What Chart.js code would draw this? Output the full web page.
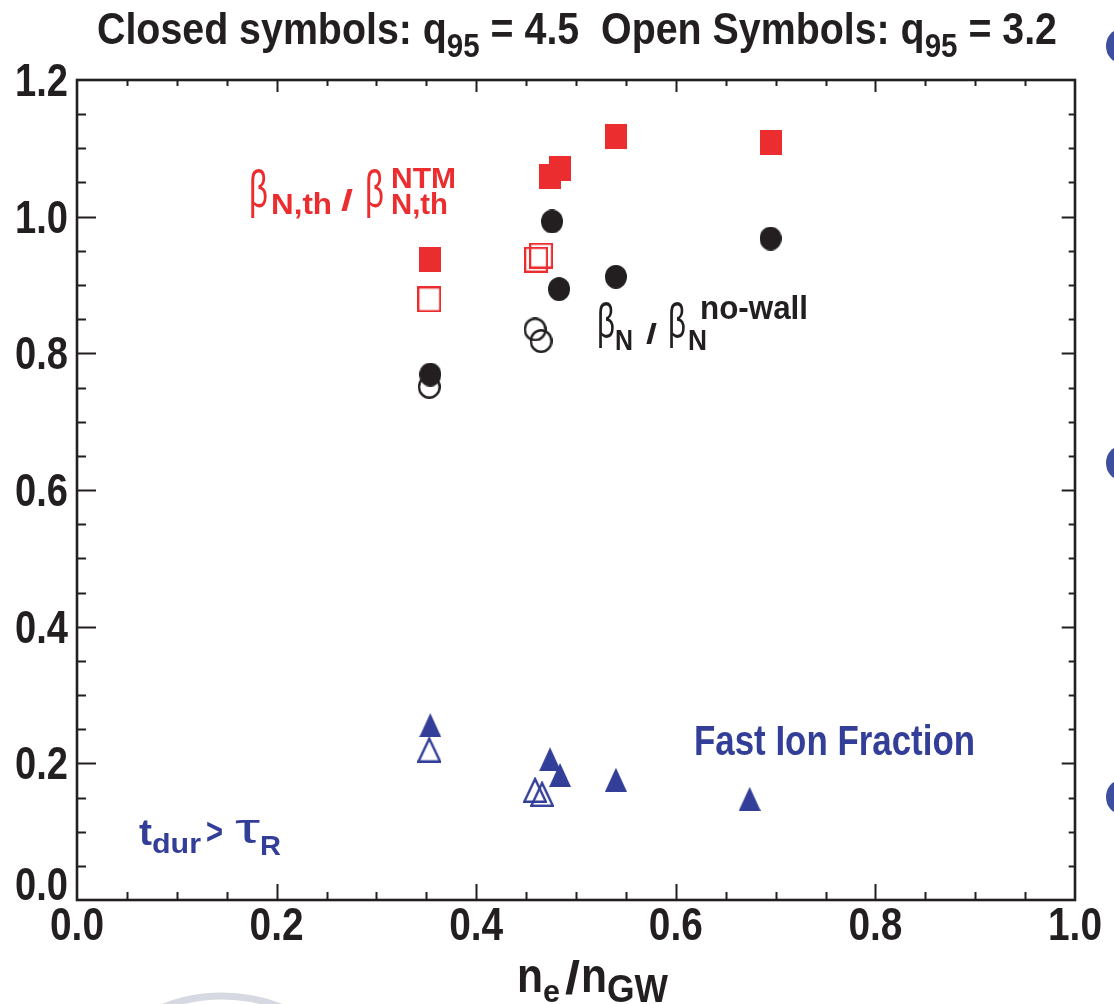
<!DOCTYPE html>
<html>
<head>
<meta charset="utf-8">
<script src="https://cdn.jsdelivr.net/npm/chart.js@4.4.1/dist/chart.umd.min.js"></script>
<style>
  html, body { margin: 0; padding: 0; background: #fff; overflow: hidden; }
  #wrap { position: relative; width: 1114px; height: 1004px; }
</style>
</head>
<body>
<div id="wrap"><canvas id="c" width="1114" height="1004"></canvas></div>
<script>
// Axis ticks
const xTickValues = [0, 0.2, 0.4, 0.6, 0.8, 1.0];
const xTickLabels = ['0.0', '0.2', '0.4', '0.6', '0.8', '1.0'];
const yTickValues = [0, 0.2, 0.4, 0.6, 0.8, 1.0, 1.2];
const yTickLabels = ['0.0', '0.2', '0.4', '0.6', '0.8', '1.0', '1.2'];
const minorStep = 0.05;

// beta_N,th / beta_N,th^NTM  (closed: q95 = 4.5, open: q95 = 3.2)
const ntmClosedX = [0.354, 0.474, 0.484, 0.540, 0.695];
const ntmClosedY = [0.938, 1.059, 1.070, 1.117, 1.109];
const ntmOpenX = [0.353, 0.460, 0.465];
const ntmOpenY = [0.879, 0.937, 0.943];

// beta_N / beta_N^no-wall
const wallClosedX = [0.354, 0.476, 0.483, 0.540, 0.695];
const wallClosedY = [0.769, 0.993, 0.894, 0.912, 0.968];
const wallOpenX = [0.353, 0.459, 0.465];
const wallOpenY = [0.751, 0.835, 0.818];

// Fast ion fraction
const fastClosedX = [0.354, 0.474, 0.484, 0.540, 0.674];
const fastClosedY = [0.256, 0.206, 0.183, 0.176, 0.148];
const fastOpenX = [0.353, 0.459, 0.466];
const fastOpenY = [0.220, 0.161, 0.155];

const RED = '#EC2D30';
const BLACK = '#231F20';
const BLUE = '#323E98';
const SANS = "'Liberation Sans', Arial, sans-serif";

function pts(xs, ys) { return xs.map((x, i) => ({ x: x, y: ys[i] })); }

// Marker bitmaps used as point styles
function marker(shape, w, h, color, filled, lw) {
  const c = document.createElement('canvas');
  c.width = w; c.height = h;
  const g = c.getContext('2d');
  const i = filled ? 0 : lw / 2;
  g.beginPath();
  if (shape === 'square') {
    g.rect(i, i, w - 2 * i, h - 2 * i);
  } else if (shape === 'circle') {
    g.ellipse(w / 2, h / 2, w / 2 - i, h / 2 - i, 0, 0, Math.PI * 2);
  } else {
    g.moveTo(w / 2, i * 1.6);
    g.lineTo(w - i, h - i);
    g.lineTo(i, h - i);
    g.closePath();
  }
  if (filled) { g.fillStyle = color; g.fill(); }
  else { g.strokeStyle = color; g.lineWidth = lw; g.lineJoin = 'miter'; g.stroke(); }
  return c;
}

function ds(data, style) {
  return { data: data, pointStyle: style, pointRadius: 11, pointHoverRadius: 11, showLine: false };
}

// Text helper: draws a string left/right/center aligned, squeezed to a width
function piece(ctx, s, x, y, o) {
  ctx.font = (o.weight || 'bold') + ' ' + o.size + 'px ' + (o.fam || SANS);
  const m = ctx.measureText(s).width;
  const sx = o.width ? o.width / m : (o.sx || 0.82);
  const sy = o.sy || 1;
  const dw = m * sx;
  let left = x;
  if (o.align === 'right') left = x - dw;
  else if (o.align === 'center') left = x - dw / 2;
  ctx.save();
  ctx.fillStyle = o.color || BLACK;
  ctx.textAlign = 'left';
  ctx.textBaseline = 'alphabetic';
  ctx.translate(left, y);
  ctx.scale(sx, sy);
  ctx.fillText(s, 0, 0);
  ctx.restore();
  return left + dw;
}

// Flowing rich text fitted to a total width
function flow(ctx, segs, x, y, totalW, color) {
  let nat = 0;
  segs.forEach(sg => {
    ctx.font = (sg.weight || 'bold') + ' ' + sg.size + 'px ' + SANS;
    sg.m = ctx.measureText(sg.s).width;
    nat += sg.m;
  });
  const sx = totalW / nat;
  let cx = x;
  segs.forEach(sg => {
    piece(ctx, sg.s, cx, y + (sg.dy || 0), { size: sg.size, weight: sg.weight, sx: sx, color: color });
    cx += sg.m * sx;
  });
}

const framePlugin = {
  id: 'frame',
  afterDraw(chart) {
    const ctx = chart.ctx;
    const xs = chart.scales.x, ys = chart.scales.y;
    const a = chart.chartArea;

    // inward ticks on all four sides
    ctx.save();
    ctx.strokeStyle = BLACK;
    ctx.lineWidth = 2;
    const nx = Math.round((xs.max - xs.min) / minorStep);
    for (let k = 1; k < nx; k++) {
      const v = xs.min + k * minorStep;
      const major = xTickValues.some(t => Math.abs(t - v) < 1e-6);
      const px = Math.round(xs.getPixelForValue(v)) + 0.5;
      const L = major ? 16 : 8;
      ctx.beginPath();
      ctx.moveTo(px, a.bottom); ctx.lineTo(px, a.bottom - L);
      ctx.moveTo(px, a.top); ctx.lineTo(px, a.top + L * 0.75);
      ctx.stroke();
    }
    const ny = Math.round((ys.max - ys.min) / minorStep);
    for (let k = 1; k < ny; k++) {
      const v = ys.min + k * minorStep;
      const major = yTickValues.some(t => Math.abs(t - v) < 1e-6);
      const py = Math.round(ys.getPixelForValue(v)) + 0.5;
      const L = major ? 19 : 9;
      ctx.beginPath();
      ctx.moveTo(a.left, py); ctx.lineTo(a.left + L, py);
      ctx.moveTo(a.right, py); ctx.lineTo(a.right - L * 0.7, py);
      ctx.stroke();
    }
    // frame
    ctx.lineWidth = 2.6;
    ctx.strokeRect(a.left, a.top, a.right - a.left, a.bottom - a.top);
    ctx.restore();

    // tick labels
    xTickValues.forEach((v, i) => {
      piece(ctx, xTickLabels[i], xs.getPixelForValue(v), 940, { size: 44, width: 54, align: 'center', sy: 1.04 });
    });
    yTickValues.forEach((v, i) => {
      let py = ys.getPixelForValue(v) + 16;
      if (i === 0) py -= 16;
      piece(ctx, yTickLabels[i], 68, py, { size: 44, width: 53, align: 'right', sy: 1.04 });
    });

    // title
    flow(ctx, [
      { s: 'Closed symbols: q', size: 44 },
      { s: '95', size: 33, dy: 13 },
      { s: ' = 4.5  Open Symbols: q', size: 44 },
      { s: '95', size: 33, dy: 13 },
      { s: ' = 3.2', size: 44 }
    ], 97, 44, 960, BLACK);

    // x axis title  n_e / n_GW
    piece(ctx, 'n', 517, 992, { size: 48, width: 26 });
    piece(ctx, 'e', 543, 1002, { size: 32, width: 17 });
    piece(ctx, '/', 565, 994, { size: 46, width: 15 });
    piece(ctx, 'n', 581, 992, { size: 48, width: 26 });
    piece(ctx, 'GW', 607, 1002, { size: 38, width: 61 });

    // red label  β_N,th / β_N,th^NTM
    piece(ctx, 'β', 249, 207, { size: 46, weight: 'normal', width: 19, sy: 1.12, color: RED });
    piece(ctx, 'N,th', 271, 214, { size: 30, width: 61, color: RED });
    piece(ctx, '/', 341, 211, { size: 30, width: 12, color: RED });
    piece(ctx, 'β', 365, 207, { size: 46, weight: 'normal', width: 19, sy: 1.12, color: RED });
    piece(ctx, 'NTM', 391, 188, { size: 30, width: 65, color: RED });
    piece(ctx, 'N,th', 391, 214, { size: 30, width: 57, color: RED });

    // black label  β_N / β_N^no-wall
    piece(ctx, 'β', 597, 338, { size: 45, weight: 'normal', width: 18, sy: 1.12, color: BLACK });
    piece(ctx, 'N', 615, 350, { size: 29, width: 18, color: BLACK });
    piece(ctx, '/', 646, 343, { size: 27, width: 11, color: BLACK });
    piece(ctx, 'β', 668, 338, { size: 45, weight: 'normal', width: 18, sy: 1.12, color: BLACK });
    piece(ctx, 'N', 688, 350, { size: 29, width: 19, color: BLACK });
    piece(ctx, 'no-wall', 700, 319, { size: 33, width: 108, color: BLACK });

    // blue labels
    piece(ctx, 'Fast Ion Fraction', 694, 755, { size: 42, width: 281, color: BLUE });
    piece(ctx, 't', 139, 845, { size: 36, width: 13, color: BLUE });
    piece(ctx, 'dur', 152, 853, { size: 28, width: 49, color: BLUE });
    piece(ctx, '>', 206, 844, { size: 36, width: 17, color: BLUE });
    piece(ctx, 'τ', 235, 843, { size: 38, weight: 'normal', width: 25, sy: 1.1, color: BLUE });
    piece(ctx, 'R', 260, 855, { size: 28, width: 21, color: BLUE });

    // stray marks along the page edges
    ctx.save();
    ctx.fillStyle = '#3D4E9E';
    [46, 463, 797].forEach(cy => {
      ctx.beginPath();
      ctx.ellipse(1121, cy, 15, 17, 0, 0, Math.PI * 2);
      ctx.fill();
    });
    ctx.strokeStyle = '#D6D9E1';
    ctx.lineWidth = 7;
    ctx.beginPath();
    ctx.ellipse(222, 1080, 118, 84, 0, Math.PI * 1.2, Math.PI * 1.8);
    ctx.stroke();
    ctx.restore();
  }
};

new Chart(document.getElementById('c'), {
  type: 'scatter',
  data: {
    datasets: [
      ds(pts(wallClosedX, wallClosedY), marker('circle', 22, 24, BLACK, true)),
      ds(pts(ntmClosedX, ntmClosedY), marker('square', 22, 25, RED, true)),
      ds(pts(fastClosedX, fastClosedY), marker('triangle', 22, 24, BLUE, true)),
      ds(pts(wallOpenX, wallOpenY), marker('circle', 23, 24, BLACK, false, 2.4)),
      ds(pts(ntmOpenX, ntmOpenY), marker('square', 24, 26, RED, false, 2.2)),
      ds(pts(fastOpenX, fastOpenY), marker('triangle', 24, 26, BLUE, false, 2.4))
    ]
  },
  options: {
    responsive: false,
    animation: false,
    devicePixelRatio: 1,
    layout: { padding: { left: 77, right: 39, top: 80, bottom: 104 } },
    plugins: { legend: { display: false }, tooltip: { enabled: false } },
    events: [],
    scales: {
      x: { type: 'linear', min: 0, max: 1, display: false },
      y: { type: 'linear', min: 0, max: 1.2, display: false }
    }
  },
  plugins: [framePlugin]
});
</script>
</body>
</html>
